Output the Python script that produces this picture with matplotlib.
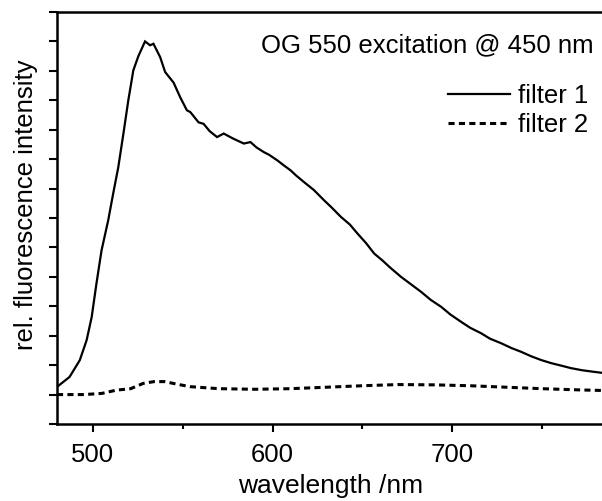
import matplotlib
matplotlib.use("Agg")
import matplotlib.pyplot as plt
from matplotlib.lines import Line2D

plt.rcParams['font.family'] = ['Liberation Sans', 'DejaVu Sans']

# filter 1 (solid)
wl1 = [480, 487, 492.7, 496.5, 499.3, 502, 504.8, 508.5, 511.3, 514.1, 517, 519.7,
       522.5, 525.3, 529, 531.8, 533.7, 537.4, 540.2, 544.9, 548.6, 552.3, 554.2,
       558.8, 561.6, 565, 569.1, 572.8, 578, 584, 587.7, 591, 595.1, 598, 602.6,
       606, 610, 613, 617.5, 623, 628.7, 633, 638, 643, 647.3, 652, 656.6, 661.3,
       665, 671.5, 677, 682.7, 688, 693.9, 699, 705, 710, 716.2, 721, 727.4, 733,
       738.5, 744, 749.7, 755, 760.9, 766, 772, 778, 783.2]
int1 = [1.26, 1.6, 2.17, 2.85, 3.63, 4.79, 5.9, 6.92, 7.84, 8.72, 9.88, 11.0,
        12.02, 12.5, 13.0, 12.87, 12.92, 12.47, 11.96, 11.6, 11.1, 10.66, 10.6,
        10.25, 10.2, 9.95, 9.75, 9.87, 9.7, 9.53, 9.58, 9.4, 9.24, 9.15, 8.96,
        8.8, 8.62, 8.45, 8.22, 7.95, 7.6, 7.35, 7.04, 6.78, 6.47, 6.15, 5.79, 5.55,
        5.34, 5.0, 4.75, 4.49, 4.22, 3.98, 3.72, 3.47, 3.27, 3.08, 2.9, 2.74, 2.58,
        2.45, 2.3, 2.17, 2.07, 1.98, 1.9, 1.83, 1.78, 1.74]

# filter 2 (dashed)
wl2 = [480, 495, 505, 513, 521, 528, 534, 540, 547, 554, 570, 590, 610, 630,
       650, 670, 690, 710, 730, 750, 770, 783]
int2 = [1.0, 1.0, 1.04, 1.15, 1.2, 1.38, 1.44, 1.44, 1.35, 1.27, 1.2, 1.18, 1.2,
        1.25, 1.3, 1.34, 1.33, 1.3, 1.25, 1.2, 1.16, 1.14]

xticks = [500, 600, 700]
xminor = [550, 650, 750]
yticks = list(range(0, 15))

FS = 18.5

fig = plt.figure(figsize=(6.02, 5.01), dpi=100)
ax = fig.add_axes([57/602, 77/501, 547/602, 412/501])

dash = (0, (2.0, 1.4))
ax.plot(wl1, int1, color='black', lw=1.6, solid_joinstyle='miter')
ax.plot(wl2, int2, color='black', lw=2.2, linestyle=dash)

ax.set_xlim(480, 784.5)
ax.set_ylim(0, 14)
ax.set_xticks(xticks)
ax.set_xticks(xminor, minor=True)
ax.set_yticks(yticks)
ax.set_yticklabels([])
ax.tick_params(axis='x', which='major', direction='out', length=5.5, width=1.5,
               labelsize=FS, pad=8)
ax.tick_params(axis='x', which='minor', direction='out', length=3.5, width=1.5)
ax.tick_params(axis='y', which='major', direction='out', length=5.5, width=1.5)
for s in ['left', 'bottom', 'top']:
    ax.spines[s].set_linewidth(1.8)
ax.spines['right'].set_visible(False)

ax.set_xlabel('wavelength /nm', fontsize=FS + 0.5, labelpad=5)
fig.text(26/602, 1 - 205/501, 'rel. fluorescence intensity', rotation=90,
         fontsize=FS, ha='center', va='center')

fig.text(594/602, 1 - 45/501, 'OG 550 excitation @ 450 nm', fontsize=FS,
         ha='right', va='center')

handles = [Line2D([], [], color='black', lw=1.6),
           Line2D([], [], color='black', lw=2.2, linestyle=dash)]
leg = ax.legend(handles, ['filter 1', 'filter 2'], loc='upper right',
                bbox_to_anchor=(588/602, 1 - 84/501), bbox_transform=fig.transFigure,
                frameon=False, fontsize=FS, handlelength=2.4, handletextpad=0.3,
                labelspacing=0.2, borderpad=0, borderaxespad=0)

fig.savefig('out.png', dpi=100)
